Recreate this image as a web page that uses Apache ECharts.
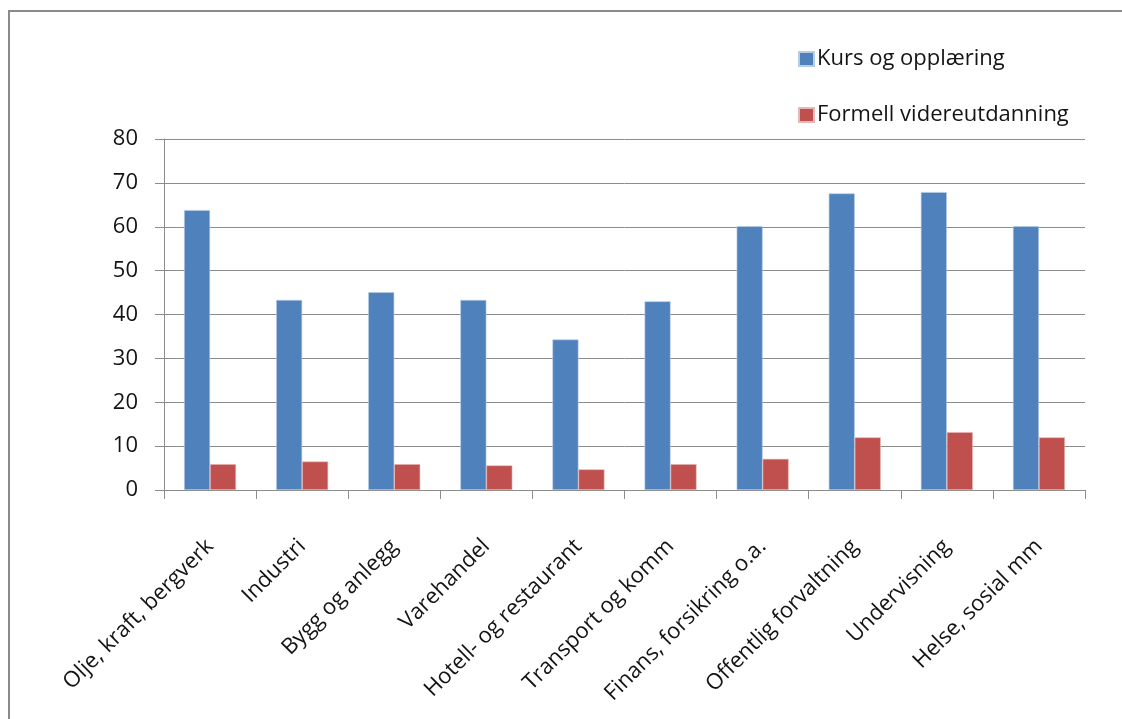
<!DOCTYPE html>
<html>
<head>
<meta charset="utf-8">
<script src="https://cdn.jsdelivr.net/npm/echarts@6/dist/echarts.min.js"></script>
<style>
  html, body { margin: 0; padding: 0; background: #ffffff; }
  #chart { width: 1122px; height: 719px; }
</style>
</head>
<body>
<div id="chart"></div>
<script>
// Sectors (x-axis categories)
const categories = [
  'Olje, kraft, bergverk',
  'Industri',
  'Bygg og anlegg',
  'Varehandel',
  'Hotell- og restaurant',
  'Transport og komm',
  'Finans, forsikring o.a.',
  'Offentlig forvaltning',
  'Undervisning',
  'Helse, sosial mm'
];

// Share (%) taking part in courses and training
const kursOgOpplaering = [63.8, 43.3, 45.1, 43.3, 34.3, 43.0, 60.1, 67.6, 67.9, 60.1];

// Share (%) taking formal further education
const formellVidereutdanning = [5.9, 6.5, 5.9, 5.6, 4.7, 5.9, 7.1, 12.0, 13.2, 12.0];

// Value-axis ticks
const yTicks = [0, 10, 20, 30, 40, 50, 60, 70, 80];

const FONT = 'Open Sans';
const TEXT = '#141414';
const LINE = '#8c8c8c';
const chart = echarts.init(document.getElementById('chart'), null, { renderer: 'canvas' });

chart.setOption({
  backgroundColor: '#ffffff',
  animation: false,
  textStyle: { fontFamily: FONT },
  graphic: [
    // frame around the chart area (top and left edges show)
    {
      type: 'polyline',
      shape: { points: [[9, 719], [9, 11], [1122, 11]] },
      style: { stroke: '#8a8a8a', lineWidth: 2, fill: null },
      silent: true
    }
  ],
  legend: {
    orient: 'vertical',
    left: 793,
    top: 43,
    itemWidth: 15,
    itemHeight: 14,
    itemGap: 34,
    icon: 'rect',
    textStyle: { fontFamily: FONT, fontSize: 22, color: TEXT, padding: [0, 0, 0, -2] },
    data: ['Kurs og opplæring', 'Formell videreutdanning']
  },
  grid: {
    left: 164,
    right: 37,
    top: 139,
    bottom: 229,
    containLabel: false
  },
  xAxis: {
    type: 'category',
    data: categories,
    axisLine: { show: true, lineStyle: { color: LINE, width: 1 } },
    axisTick: { show: true, length: 9, alignWithLabel: false, lineStyle: { color: LINE } },
    axisLabel: {
      rotate: 45,
      interval: 0,
      margin: 53,
      fontFamily: FONT,
      fontSize: 22,
      color: TEXT
    },
    splitLine: { show: false }
  },
  yAxis: {
    type: 'value',
    min: yTicks[0],
    max: yTicks[yTicks.length - 1],
    interval: yTicks[1] - yTicks[0],
    axisLine: { show: true, lineStyle: { color: LINE, width: 1 } },
    axisTick: { show: true, length: 9, lineStyle: { color: LINE } },
    axisLabel: {
      margin: 26,
      fontFamily: FONT,
      fontSize: 22,
      color: TEXT
    },
    splitLine: { show: true, lineStyle: { color: LINE, width: 1 } }
  },
  series: [
    {
      name: 'Kurs og opplæring',
      type: 'bar',
      data: kursOgOpplaering,
      barWidth: 26,
      barGap: '0%',
      itemStyle: { color: '#4f81bd', borderColor: '#b8cce4', borderWidth: 0.6 }
    },
    {
      name: 'Formell videreutdanning',
      type: 'bar',
      data: formellVidereutdanning,
      barWidth: 26,
      barGap: '0%',
      itemStyle: { color: '#c0504d', borderColor: '#e6b9b8', borderWidth: 0.6 }
    }
  ]
});
</script>
</body>
</html>
